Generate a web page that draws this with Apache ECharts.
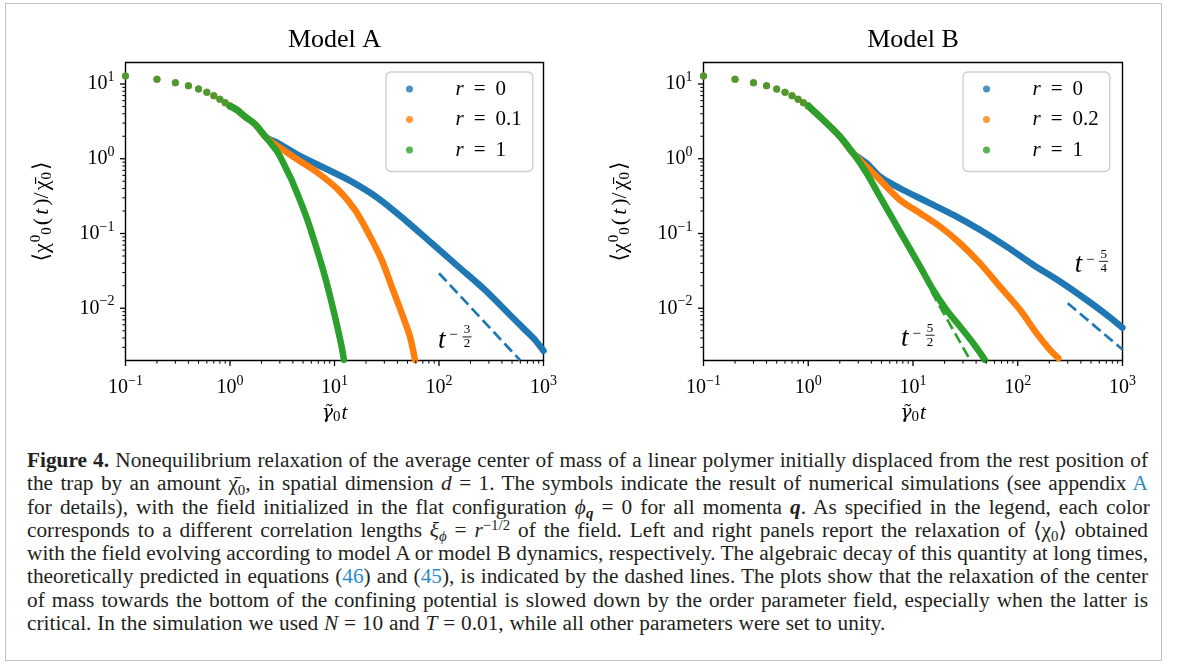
<!DOCTYPE html>
<html>
<head>
<meta charset="utf-8">
<title>Figure 4</title>
<script src="https://cdn.jsdelivr.net/npm/echarts@6/dist/echarts.min.js"></script>
<style>
  html, body { margin: 0; padding: 0; background: #fff; }
  #page { position: relative; width: 1179px; height: 666px; overflow: hidden; }
  #frame { position: absolute; left: 5px; top: 3px; width: 1155px; height: 656px; border: 1.5px solid #c2c2c2; }
  #chart { position: absolute; left: 0; top: 0; width: 1179px; height: 440px; }
  #caption {
    position: absolute; left: 27px; top: 449px; width: 1121px;
    font-family: "Liberation Serif", "DejaVu Serif", serif; font-size: 21.3px; line-height: 23.3px; color: #231f20;
  }
  #caption div { height: 23.3px; white-space: nowrap; text-align: justify; text-align-last: justify; }
  #caption div.short { white-space: pre; text-align: left; text-align-last: left; }
  #caption sub, #caption sup { font-size: 70%; line-height: 0; position: relative; vertical-align: baseline; }
  #caption sub { top: 0.3em; }
  #caption sup { top: -0.45em; }
  .ref { color: #2a8bc8; }
</style>
</head>
<body>
<div id="page">
  <div id="frame"></div>
  <div id="chart"></div>
  <div id="caption">
    <div><b>Figure 4.</b> Nonequilibrium relaxation of the average center of mass of a linear polymer initially displaced from the rest position of</div>
    <div>the trap by an amount χ̄<sub>0</sub>, in spatial dimension <i>d</i> = 1. The symbols indicate the result of numerical simulations (see appendix <span class="ref">A</span></div>
    <div class="short" style="word-spacing: 2.8px">for details), with the field initialized in the flat configuration <i>ϕ</i><sub><b><i>q</i></b></sub> = 0 for all momenta <b><i>q</i></b>. As specified in the legend, each color</div>
    <div>corresponds to a different correlation lengths <i>ξ</i><sub><i>ϕ</i></sub> = <i>r</i><sup>−1/2</sup> of the field. Left and right panels report the relaxation of ⟨χ<sub>0</sub>⟩ obtained</div>
    <div>with the field evolving according to model A or model B dynamics, respectively. The algebraic decay of this quantity at long times,</div>
    <div>theoretically predicted in equations (<span class="ref">46</span>) and (<span class="ref">45</span>), is indicated by the dashed lines. The plots show that the relaxation of the center</div>
    <div>of mass towards the bottom of the confining potential is slowed down by the order parameter field, especially when the latter is</div>
    <div class="short" style="word-spacing: 0.5px">critical. In the simulation we used <i>N</i> = 10 and <i>T</i> = 0.01, while all other parameters were set to unity.</div>
  </div>
</div>
<script>
// early sparse points (t = 0.1 ... 1.0), all three curves coincide here
var tEarly = [0.1, 0.2, 0.3, 0.4, 0.5, 0.6, 0.7, 0.8, 0.9, 1.0];
var vEarly = [12.8, 11.6, 10.4, 9.5, 8.57, 7.74, 6.98, 6.24, 5.62, 5.08];

// model A
var tA_r0 = [1.0, 1.17, 1.39, 1.73, 2.2, 2.9, 4.5, 8.11, 14.6, 26.2, 47.3, 85.2, 153, 275, 460, 665, 829, 1000];
var vA_r0 = [5.08, 4.49, 3.66, 2.92, 1.95, 1.61, 1.12, 0.746, 0.494, 0.296, 0.152, 0.0741, 0.0361, 0.0176, 0.00859, 0.00514, 0.00378, 0.0027];
var tA_r01 = [1.0, 1.17, 1.39, 1.73, 2.2, 2.9, 4.5, 7.0, 10.9, 15.7, 21.1, 28.3, 35.3, 44.0, 52.7, 58.9];
var vA_r01 = [5.08, 4.49, 3.66, 2.92, 1.95, 1.45, 0.964, 0.640, 0.383, 0.207, 0.101, 0.0444, 0.0195, 0.00859, 0.0042, 0.00204];
var tA_r1 = [1.0, 1.17, 1.39, 1.73, 2.2, 2.9, 3.49, 3.89, 5.22, 6.51, 8.11, 9.75, 11.7, 12.3];
var vA_r1 = [5.08, 4.49, 3.66, 2.92, 1.95, 1.18, 0.708, 0.521, 0.187, 0.0741, 0.0265, 0.00953, 0.00308, 0.00204];

// model B
var tB_r0 = [1.0, 1.29, 2.01, 2.69, 3.61, 4.84, 7.5, 13.5, 24.3, 43.5, 78.3, 141, 253, 455, 707, 1000];
var vB_r0 = [5.08, 3.66, 1.98, 1.18, 0.871, 0.578, 0.403, 0.267, 0.177, 0.112, 0.0668, 0.0380, 0.0228, 0.0129, 0.00817, 0.0055];
var tB_r02 = [1.0, 1.29, 2.01, 2.69, 3.61, 4.84, 7.5, 11.7, 18.1, 28.1, 43.5, 67.6, 105, 151, 203, 244];
var vB_r02 = [5.08, 3.66, 1.98, 1.18, 0.784, 0.521, 0.281, 0.187, 0.124, 0.0741, 0.0401, 0.0195, 0.00953, 0.00465, 0.00278, 0.00215];
var tB_r1 = [1.0, 1.29, 2.01, 2.69, 3.61, 4.84, 6.49, 8.70, 11.7, 15.6, 20.9, 28.1, 37.6, 48.6];
var vB_r1 = [5.08, 3.66, 1.98, 1.18, 0.640, 0.311, 0.152, 0.0741, 0.0361, 0.0176, 0.00953, 0.00569, 0.00340, 0.00204];

// power law guides (dashed)
var tGuideA = [100, 600];
var vGuideA = [0.0294, 0.0020];
var tGuideB54 = [300, 1000];
var vGuideB54 = [0.0117, 0.0028];
var tGuideB52 = [15, 34];
var vGuideB52 = [0.0167, 0.0022];
var slopeFracs = [['3', '2'], ['5', '4'], ['5', '2']];
var tSlopeLabel = [98, 350, 7.7];
var vSlopeLabel = [0.0037, 0.038, 0.0039];

var legendA = ['r = 0', 'r = 0.1', 'r = 1'];
var legendB = ['r = 0', 'r = 0.2', 'r = 1'];
var xMajor = [0.1, 1, 10, 100, 1000];
var yMajor = [0.01, 0.1, 1, 10];
var minorSteps = [2, 3, 4, 5, 6, 7, 8, 9];
var X_MIN = 0.1, X_MAX = 1000, Y_MIN = 0.002, Y_MAX = 19.4;

var FONT = '"Liberation Serif", "DejaVu Serif", serif';
var COLORS = ['#1f77b4', '#ff7f0e', '#2ca02c'];

function pairs(t, v) {
  return t.map(function (x, i) { return [x, v[i]]; });
}

function minorTicks(lo, hi) {
  var out = [];
  for (var e = Math.floor(Math.log10(lo)); e <= Math.ceil(Math.log10(hi)); e++) {
    minorSteps.forEach(function (m) {
      var v = m * Math.pow(10, e);
      if (v > lo * 1.0001 && v < hi * 0.9999) out.push(v);
    });
  }
  return out;
}

function powLabel(v) {
  var lg = Math.log10(v), e = Math.round(lg);
  if (Math.abs(lg - e) > 1e-6) return '';
  return '{b|10}{s|' + (e < 0 ? '−' + (-e) : e) + '}';
}

var tickRich = {
  b: { fontFamily: FONT, fontSize: 20, color: '#000' },
  s: { fontFamily: FONT, fontSize: 14, color: '#000', padding: [0, 0, 13, 0] }
};

function legendLabel(name) {
  var parts = name.split(' = ');
  return '{i|' + parts[0] + '}{o|=}{n|' + parts[1] + '}';
}

function makeLegend(data, left) {
  return {
    data: data, orient: 'vertical', left: left, top: 72,
    icon: 'circle', itemWidth: 20, itemHeight: 7, itemGap: 9.5,
    padding: [6.5, 11, 11, 20],
    backgroundColor: 'rgba(255,255,255,0.8)', borderColor: '#cccccc', borderWidth: 1.3, borderRadius: 5,
    selectedMode: false,
    formatter: legendLabel,
    textStyle: {
      padding: [0, 0, 0, 31],
      rich: {
        i: { fontFamily: FONT, fontStyle: 'italic', fontSize: 21, lineHeight: 21, color: '#000' },
        o: { fontFamily: FONT, fontSize: 21, lineHeight: 21, color: '#000', padding: [0, 10, 0, 10] },
        n: { fontFamily: FONT, fontSize: 21, lineHeight: 21, color: '#000' }
      }
    }
  };
}

function makeX(idx) {
  return {
    type: 'log', logBase: 10, gridIndex: idx, min: X_MIN, max: X_MAX,
    axisLine: { show: false }, axisTick: { show: false }, splitLine: { show: false },
    axisLabel: { formatter: powLabel, rich: tickRich, margin: 14 },
    name: '{g|γ̃}{sb|0}{i|t}', nameLocation: 'middle', nameGap: 38,
    nameTextStyle: {
      rich: {
        g: { fontFamily: '"DejaVu Serif", serif', fontStyle: 'italic', fontSize: 19, color: '#000' },
        sb: { fontFamily: FONT, fontSize: 15, color: '#000', padding: [8, 1, 0, 0] },
        i: { fontFamily: FONT, fontStyle: 'italic', fontSize: 21, color: '#000' }
      }
    }
  };
}

function makeY(idx) {
  return {
    type: 'log', logBase: 10, gridIndex: idx, min: Y_MIN, max: Y_MAX,
    axisLine: { show: false }, axisTick: { show: false }, splitLine: { show: false },
    axisLabel: { formatter: powLabel, rich: tickRich, margin: 11 },
    name: '{n|⟨χ}{sp|0}{sb|0}{n|(}{i|t}{n|)/}{n|χ̄}{sb|0}{n|⟩}',
    nameLocation: 'middle', nameGap: 70, nameRotate: 90,
    nameTextStyle: {
      rich: {
        n: { fontFamily: FONT, fontSize: 22, color: '#000', padding: [0, 1, 0, 1] },
        i: { fontFamily: FONT, fontStyle: 'italic', fontSize: 22, color: '#000', padding: [0, 2, 0, 2] },
        sp: { fontFamily: FONT, fontSize: 15, color: '#000', padding: [0, 0, 12, 0] },
        sb: { fontFamily: FONT, fontSize: 15, color: '#000', padding: [10, 1, 0, 0] }
      }
    }
  };
}

function curveSeries(idx, name, color, t, v) {
  return [{
    type: 'scatter', name: name, xAxisIndex: idx, yAxisIndex: idx,
    data: pairs(tEarly, vEarly), symbolSize: 7, itemStyle: { color: color }, silent: true
  }, {
    type: 'line', name: name + ' (dense)', xAxisIndex: idx, yAxisIndex: idx,
    data: pairs(t, v), showSymbol: false, symbol: 'none', smooth: 0.3, silent: true,
    itemStyle: { color: color },
    lineStyle: { color: color, width: 6.5, cap: 'round', join: 'round' }
  }];
}

function guideSeries(idx, color, t, v) {
  return {
    type: 'line', name: 'guide', xAxisIndex: idx, yAxisIndex: idx,
    data: pairs(t, v), showSymbol: false, symbol: 'none', silent: true, z: 3,
    lineStyle: { color: color, width: 2.7, type: [11, 5] }
  };
}

function tickSeries(idx, dir) {
  var data = [];
  if (dir === 'x') {
    xMajor.forEach(function (v) { data.push([v, Y_MIN, 1]); });
    minorTicks(X_MIN, X_MAX).forEach(function (v) { data.push([v, Y_MIN, 0]); });
  } else {
    yMajor.forEach(function (v) { data.push([X_MIN, v, 1]); });
    minorTicks(Y_MIN, Y_MAX).forEach(function (v) { data.push([X_MIN, v, 0]); });
  }
  return {
    type: 'custom', xAxisIndex: idx, yAxisIndex: idx, silent: true, z: 4,
    data: data,
    renderItem: function (params, api) {
      var p = api.coord([api.value(0), api.value(1)]);
      var major = api.value(2) === 1;
      var len = major ? 5.5 : 3.2;
      var shape = dir === 'x'
        ? { x1: p[0], y1: p[1], x2: p[0], y2: p[1] + len }
        : { x1: p[0] - len, y1: p[1], x2: p[0], y2: p[1] };
      return { type: 'line', shape: shape, style: { stroke: '#000', lineWidth: major ? 1.3 : 1 } };
    }
  };
}

function slopeSeries(idx, which) {
  return {
    type: 'custom', xAxisIndex: idx, yAxisIndex: idx, silent: true, z: 5,
    data: which.map(function (k) { return [tSlopeLabel[k], vSlopeLabel[k], k]; }),
    renderItem: function (params, api) {
      var p = api.coord([api.value(0), api.value(1)]);
      var f = slopeFracs[api.value(2)];
      var small = { fontFamily: FONT, fontSize: 13, fill: '#000', align: 'center', verticalAlign: 'middle' };
      return {
        type: 'group', x: p[0], y: p[1],
        children: [
          { type: 'text', x: 0, y: 0, style: { text: 't', fontFamily: FONT, fontStyle: 'italic', fontSize: 27, fill: '#000', align: 'left', verticalAlign: 'middle' } },
          { type: 'text', x: 15.5, y: -5, style: Object.assign({ text: '−' }, small, { fontSize: 15 }) },
          { type: 'text', x: 29, y: -10.5, style: Object.assign({ text: f[0] }, small) },
          { type: 'line', shape: { x1: 24.5, y1: -3.6, x2: 33.5, y2: -3.6 }, style: { stroke: '#000', lineWidth: 0.9 } },
          { type: 'text', x: 29, y: 3.4, style: Object.assign({ text: f[1] }, small) }
        ]
      };
    }
  };
}

var chart = echarts.init(document.getElementById('chart'));

var series = [].concat(
  curveSeries(0, 'r = 0', COLORS[0], tA_r0, vA_r0),
  curveSeries(0, 'r = 0.1', COLORS[1], tA_r01, vA_r01),
  curveSeries(0, 'r = 1', COLORS[2], tA_r1, vA_r1),
  [guideSeries(0, COLORS[0], tGuideA, vGuideA)],
  curveSeries(1, 'r = 0', COLORS[0], tB_r0, vB_r0),
  curveSeries(1, 'r = 0.2', COLORS[1], tB_r02, vB_r02),
  curveSeries(1, 'r = 1', COLORS[2], tB_r1, vB_r1),
  [guideSeries(1, COLORS[0], tGuideB54, vGuideB54), guideSeries(1, COLORS[2], tGuideB52, vGuideB52)],
  [tickSeries(0, 'x'), tickSeries(0, 'y'), tickSeries(1, 'x'), tickSeries(1, 'y')],
  [slopeSeries(0, [0]), slopeSeries(1, [1, 2])]
);

var option = {
  animation: false,
  textStyle: { fontFamily: FONT },
  graphic: [
    { type: 'text', x: 334.5, y: 40, style: { text: 'Model A', fontFamily: FONT, fontSize: 26, fill: '#000', align: 'center', verticalAlign: 'middle' } },
    { type: 'text', x: 913, y: 40, style: { text: 'Model B', fontFamily: FONT, fontSize: 26, fill: '#000', align: 'center', verticalAlign: 'middle' } }
  ],
  legend: [makeLegend(legendA, 386), makeLegend(legendB, 963)],
  grid: [
    { left: 125.5, top: 62.5, width: 418, height: 298, show: true, borderColor: '#000', borderWidth: 1.4 },
    { left: 703.5, top: 62.5, width: 419, height: 298, show: true, borderColor: '#000', borderWidth: 1.4 }
  ],
  xAxis: [makeX(0), makeX(1)],
  yAxis: [makeY(0), makeY(1)],
  series: series
};

chart.setOption(option);
</script>
</body>
</html>
